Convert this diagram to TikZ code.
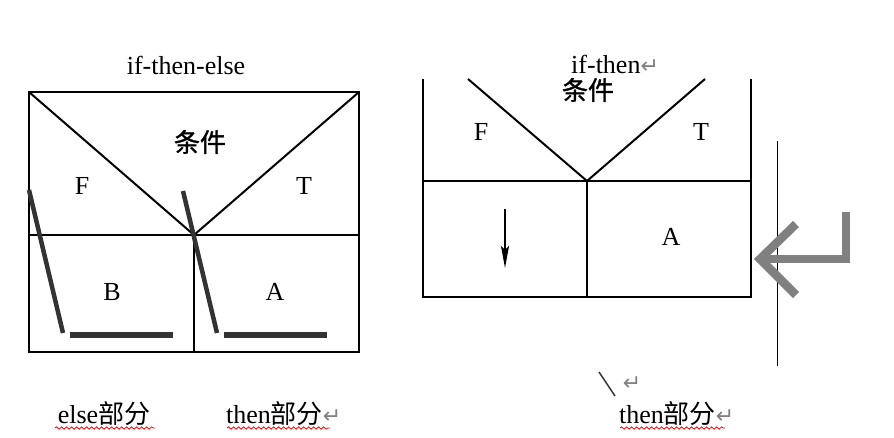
\documentclass[tikz,border=0pt]{standalone}
\usepackage{fontspec}
\setmainfont{Liberation Serif}
\newfontfamily\cjk{Noto Sans CJK SC}
\newfontfamily\cjkm[FakeBold=1.2]{Noto Sans CJK SC}
\newfontfamily\symf{DejaVu Sans}
\usetikzlibrary{decorations.pathmorphing,arrows.meta}
\definecolor{dk}{HTML}{333333}
\definecolor{retg}{HTML}{808080}
\tikzset{
  frame/.style={line width=2.8pt, black},
  diag/.style={line width=2pt, black},
  slantmk/.style={line width=4.5pt, dk},
  barline/.style={line width=6pt, dk},
  lbl/.style={font=\fontsize{26}{28}\selectfont, inner sep=0pt, anchor=base},
  cjklbl/.style={font=\fontsize{26}{28}\selectfont\cjkm, inner sep=0pt},
  wave/.style={red, line width=0.8pt, decorate, decoration={snake, amplitude=1.2pt, segment length=5pt}},
  retsym/.style={text=retg, font=\fontsize{22}{24}\selectfont\symf},
}
\newcommand{\retmk}{{\color{retg}\fontsize{22}{24}\selectfont\symf ↵}}
\begin{document}
\begin{tikzpicture}[x=1pt,y=-1pt]
\useasboundingbox (0,0) rectangle (894,437);
% ---------- left diagram ----------
\coordinate (L1) at (29,92);
\coordinate (L2) at (359,92);
\coordinate (L3) at (359,352);
\coordinate (L4) at (29,352);
\coordinate (LM) at (194,235);
\coordinate (LML) at (29,235);
\coordinate (LMR) at (359,235);
\coordinate (LMB) at (194,352);
\draw[frame] (L1) -- (L2) -- (L3) -- (L4) -- cycle;
\draw[frame] (LML) -- (LMR);
\draw[frame] (LM) -- (LMB);
\draw[diag] (L1) -- (LM) -- (L2);
\node[lbl] (t1) at (186,74) {if-then-else};
\node[cjklbl] (c1) at (200,142) {条件};
\node[lbl] (f1) at (82,194) {F};
\node[lbl] (tt1) at (304,194) {T};
\node[lbl] (b1) at (112,300) {B};
\node[lbl] (a1) at (275,300) {A};
% thick marks
\coordinate (s1a) at (29,190);
\coordinate (s1b) at (63,333);
\coordinate (h1a) at (70,335);
\coordinate (h1b) at (173,335);
\coordinate (s2a) at (183,191);
\coordinate (s2b) at (217,333);
\coordinate (h2a) at (224,335);
\coordinate (h2b) at (327,335);
\draw[slantmk] (s1a) -- (s1b);
\draw[barline] (h1a) -- (h1b);
\draw[slantmk] (s2a) -- (s2b);
\draw[barline] (h2a) -- (h2b);
% bottom labels
\node[lbl] (e1) at (104,423) {else{\cjk 部分}};
\node[lbl, anchor=base west] (th1) at (226,423) {then{\cjk 部分}\retmk};
\coordinate (w1a) at (55,428); \coordinate (w1b) at (155,428);
\coordinate (w2a) at (227,428); \coordinate (w2b) at (330,428);
\draw[wave] (w1a) -- (w1b);
\draw[wave] (w2a) -- (w2b);
% ---------- right diagram ----------
\coordinate (R1) at (423,79);
\coordinate (R2) at (751,79);
\coordinate (R3) at (751,297);
\coordinate (R4) at (423,297);
\coordinate (RM) at (587,181);
\coordinate (RML) at (423,181);
\coordinate (RMR) at (751,181);
\coordinate (RMB) at (587,297);
\coordinate (V1) at (468,79);
\coordinate (V2) at (705,79);
\draw[frame] (R1) -- (R4) -- (R3) -- (R2);
\draw[frame] (RML) -- (RMR);
\draw[frame] (RM) -- (RMB);
\draw[diag] (V1) -- (RM) -- (V2);
\node[lbl, anchor=base west] (t2) at (571,73) {if-then\retmk};
\node[cjklbl] (c2) at (588,90) {条件};
\node[lbl] (f2) at (481,140) {F};
\node[lbl] (tt2) at (701,140) {T};
\node[lbl] (a2) at (671,245) {A};
\coordinate (da) at (505,209);
\coordinate (db) at (505,268);
\draw[line width=1.8pt, -{Stealth[length=22pt, width=8pt, inset=4pt]}] (da) -- (db);
% thin vertical line
\coordinate (tv1) at (777,141);
\coordinate (tv2) at (777,366);
\draw[line width=1pt] (tv1) -- (tv2);
% big return symbol
\coordinate (g1) at (846,212);
\coordinate (g2) at (846,259);
\coordinate (g3) at (762,259);
\coordinate (g4) at (796,224);
\coordinate (g5) at (760,259);
\coordinate (g6) at (796,295);
\draw[retg, line width=8.5pt] (g1) -- (g2) -- (g3);
\draw[retg, line width=8.5pt, line join=miter] (g4) -- (g5) -- (g6);
% backslash and return mark
\coordinate (bs1) at (599,372);
\coordinate (bs2) at (615,396);
\draw[dk, line width=1.5pt] (bs1) -- (bs2);
\node[retsym, inner sep=0pt] (r3) at (632,384) {↵};
\node[lbl, anchor=base west] (th2) at (619,423) {then{\cjk 部分}\retmk};
\coordinate (w3a) at (620,428); \coordinate (w3b) at (725,428);
\draw[wave] (w3a) -- (w3b);
\end{tikzpicture}
\end{document}
